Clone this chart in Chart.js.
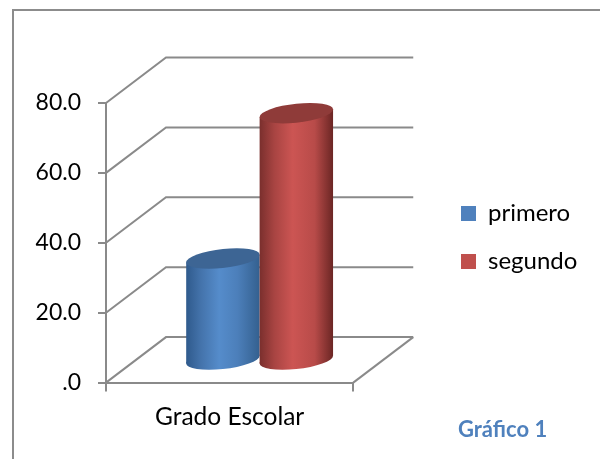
<!DOCTYPE html>
<html><head><meta charset="utf-8">
<style>html,body{margin:0;padding:0;background:#fff}#w{position:relative;width:600px;height:459px;overflow:hidden}canvas{display:block}</style>
<script src="https://cdn.jsdelivr.net/npm/chart.js@4"></script></head>
<body><div id="w"><canvas id="c" width="600" height="459"></canvas></div>
<script>
const categories = ['Grado Escolar'];
const seriesNames = ['primero', 'segundo'];
const primero = [29.2];
const segundo = [70.8];
const yTicks = [0, 20, 40, 60, 80];
const note = 'Gráfico 1';
const FONT = 'Lato, Carlito, sans-serif';
const GREY = '#8a8a8a';
const BLUE = '#4f81bd', RED = '#c0504d';
const DX = 60, DY = -45.5;
const BAR_DX = 30, BAR_DY = -22, SHEAR = -0.105, ELL_RY = 9.5;

const ctx0 = document.getElementById('c').getContext('2d');
function cyl(x0, x1, stops) {
  const g = ctx0.createLinearGradient(x0, 0, x1, 0);
  stops.forEach(s => g.addColorStop(s[0], s[1]));
  return g;
}
const blueStops = [[0,'#2f5a8c'],[0.2,'#4473ab'],[0.45,'#558ccb'],[0.7,'#4c7fba'],[1,'#34608f']];
const redStops  = [[0,'#7a2f2d'],[0.2,'#a84442'],[0.45,'#cc5553'],[0.75,'#b84b49'],[1,'#6b2624']];

const cylinder3d = {
  id: 'cylinder3d',
  afterLayout(chart) {
    const lg = chart.legend;
    const h = lg.bottom - lg.top;
    lg.left = 437; lg.right = 600;
    lg.top = 237.5 - h / 2; lg.bottom = lg.top + h;
  },
  beforeDraw(chart) {
    const { ctx, chartArea: a, scales: { y } } = chart;
    ctx.save();
    ctx.strokeStyle = '#8c8c8c'; ctx.lineWidth = 2;
    ctx.beginPath();
    ctx.moveTo(13, 470); ctx.lineTo(13, 10); ctx.lineTo(600, 10);
    ctx.stroke();
    ctx.strokeStyle = GREY; ctx.lineWidth = 2;
    yTicks.forEach(v => {
      const p = y.getPixelForValue(v);
      ctx.beginPath();
      ctx.moveTo(a.left, p);
      ctx.lineTo(a.left + DX, p + DY);
      ctx.lineTo(a.right + DX, p + DY);
      ctx.stroke();
    });
    const p0 = y.getPixelForValue(0);
    ctx.beginPath();
    ctx.moveTo(a.right, p0);
    ctx.lineTo(a.right + DX, p0 + DY);
    ctx.stroke();
    ctx.restore();
  },
  beforeDatasetsDraw(chart) {
    const { ctx } = chart;
    chart.data.datasets.forEach((d, i) => {
      const meta = chart.getDatasetMeta(i);
      const b = meta.data[0];
      const r = b.width / 2;
      const g = cyl(b.x - r, b.x + r, i ? redStops : blueStops);
      b.options = Object.assign({}, b.options, { backgroundColor: g });
      ctx.save();
      ctx.translate(BAR_DX, BAR_DY);
      ctx.transform(1, SHEAR, 0, 1, 0, -SHEAR * b.x);
      ctx.fillStyle = g;
      ctx.beginPath();
      ctx.ellipse(b.x, b.base, r, ELL_RY, 0, 0, Math.PI * 2);
      ctx.fill();
      meta.controller.draw();
      ctx.fillStyle = i ? '#8f3b39' : '#3d6594';
      ctx.beginPath();
      ctx.ellipse(b.x, b.y, r, ELL_RY, 0, 0, Math.PI * 2);
      ctx.fill();
      ctx.restore();
    });
    ctx.save();
    ctx.fillStyle = '#4f81bd';
    ctx.font = 'bold 22px ' + FONT;
    ctx.textBaseline = 'alphabetic';
    ctx.fillText(note, 458, 437);
    ctx.restore();
    return false;
  }
};

new Chart(ctx0, {
  type: 'bar',
  data: {
    labels: categories,
    datasets: [
      { label: seriesNames[0], data: primero, backgroundColor: BLUE, borderWidth: 0 },
      { label: seriesNames[1], data: segundo, backgroundColor: RED, borderWidth: 0 }
    ]
  },
  options: {
    responsive: false, animation: false,
    layout: { padding: { left: 30, top: 103, right: 139, bottom: 16 } },
    scales: {
      x: {
        grid: { drawOnChartArea: false, offset: true, color: GREY, lineWidth: 2, tickLength: 9, tickColor: GREY },
        border: { color: GREY, width: 2 },
        ticks: { color: '#000', font: { family: FONT, size: 24.5 }, padding: 11, maxRotation: 0 }
      },
      y: {
        min: 0, max: 80,
        afterBuildTicks: s => { s.ticks = yTicks.map(v => ({ value: v })); },
        afterFit: s => { s.width = 76; },
        grid: { drawOnChartArea: false, color: GREY, lineWidth: 2, tickLength: 8 },
        border: { color: GREY, width: 2 },
        ticks: { color: '#000', font: { family: FONT, size: 23 }, padding: 17,
          callback: v => v === 0 ? '.0' : v.toFixed(1) }
      }
    },
    plugins: {
      legend: { position: 'right', labels: { boxWidth: 15, boxHeight: 15, color: '#000', font: { family: FONT, size: 24 }, padding: 24,
        generateLabels: c => c.data.datasets.map((d, i) => ({ text: d.label, fillStyle: i ? RED : BLUE, strokeStyle: 'transparent', lineWidth: 0, datasetIndex: i })) } },
      tooltip: { enabled: false }, title: { display: false }
    },
    datasets: { bar: { categoryPercentage: 0.594, barPercentage: 1 } }
  },
  plugins: [cylinder3d]
});
</script></body></html>
